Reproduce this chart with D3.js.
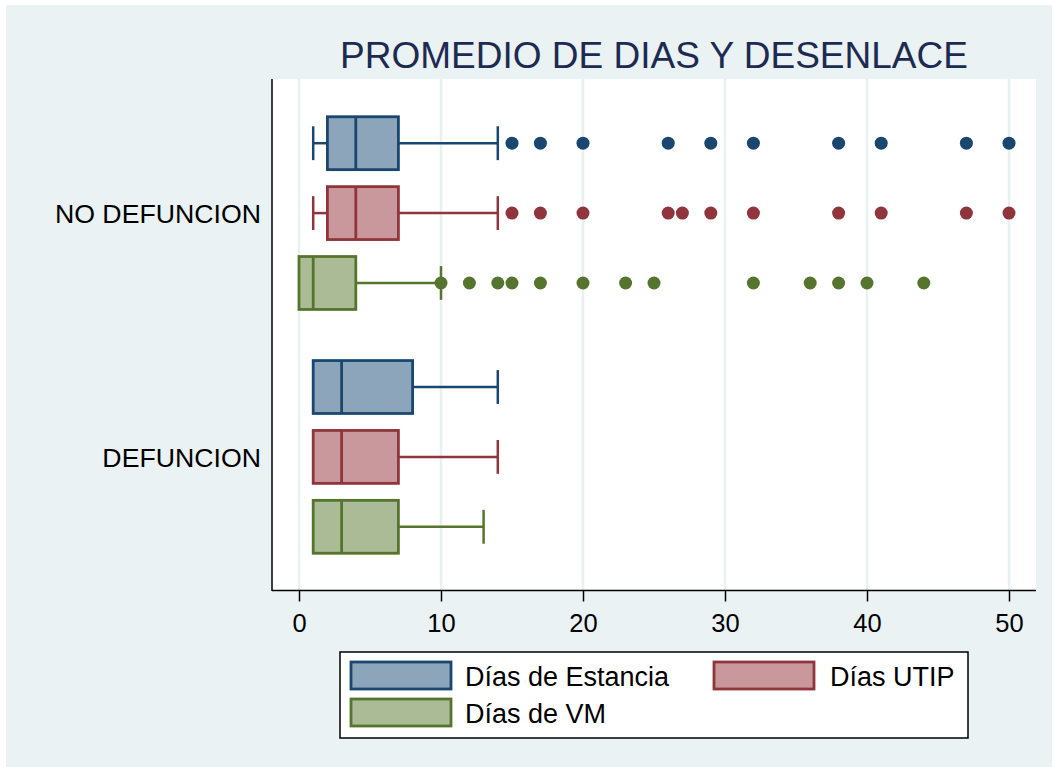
<!DOCTYPE html>
<html>
<head>
<meta charset="utf-8">
<script src="https://cdn.jsdelivr.net/npm/d3@7"></script>
<style>
  html, body { margin: 0; padding: 0; background: #ffffff; }
  svg { display: block; font-family: Arial, "Liberation Sans", sans-serif; }
</style>
</head>
<body>
<svg id="chart" width="1053" height="770"></svg>
<script>
// Outcome groups and the three day counts compared within each
const categories = ["NO DEFUNCION", "DEFUNCION"];
const series = ["Días de Estancia", "Días UTIP", "Días de VM"];
const xTicks = [0, 10, 20, 30, 40, 50];
const title = "PROMEDIO DE DIAS Y DESENLACE";

// Box statistics: [lower adjacent, Q1, median, Q3, upper adjacent]
const estanciaStats = [[1, 2, 4, 7, 14], [1, 1, 3, 8, 14]];
const utipStats     = [[1, 2, 4, 7, 14], [1, 1, 3, 7, 14]];
const vmStats       = [[0, 0, 1, 4, 10], [1, 1, 3, 7, 13]];

// Outside values
const estanciaOutliers = [[15, 17, 20, 26, 29, 32, 38, 41, 47, 50], []];
const utipOutliers     = [[15, 17, 20, 26, 27, 29, 32, 38, 41, 47, 50], []];
const vmOutliers       = [[10, 12, 14, 15, 17, 20, 23, 25, 32, 36, 38, 40, 44], []];

const strokeColors = ["#1a476f", "#90353b", "#55752f"];
const fillColors   = ["#8ca5bb", "#c8989c", "#aabb95"];

const stats = [estanciaStats, utipStats, vmStats];
const outliers = [estanciaOutliers, utipOutliers, vmOutliers];

const svg = d3.select("#chart");

// Outer graph region
svg.append("rect")
  .attr("x", 6).attr("y", 5).attr("width", 1046).attr("height", 762)
  .attr("fill", "#eaf2f3");

const plot = { left: 272, right: 1036, top: 79, bottom: 591 };

svg.append("rect")
  .attr("x", plot.left).attr("y", plot.top)
  .attr("width", plot.right - plot.left).attr("height", plot.bottom - plot.top)
  .attr("fill", "#ffffff");

const x = d3.scaleLinear().domain([0, 50]).range([299, 1009]);

const yOuter = d3.scaleBand()
  .domain(categories)
  .range([plot.top, plot.bottom])
  .paddingInner(0.14)
  .paddingOuter(0.12);

const yInner = d3.scaleBand()
  .domain(series)
  .range([0, yOuter.bandwidth()])
  .paddingInner(0.243)
  .paddingOuter(0.1215);

// Vertical grid lines
svg.append("g").selectAll("line")
  .data(xTicks)
  .join("line")
  .attr("x1", d => x(d)).attr("x2", d => x(d))
  .attr("y1", plot.top).attr("y2", plot.bottom)
  .attr("stroke", "#e8f0f2")
  .attr("stroke-width", 2.5);

// Boxes
const rows = [];
categories.forEach((cat, ci) => {
  series.forEach((s, si) => {
    rows.push({ cat, s, si, st: stats[si][ci], out: outliers[si][ci] });
  });
});

const bh = yInner.bandwidth();
const capH = bh * 0.64;

const g = svg.append("g");
rows.forEach(r => {
  const yTop = yOuter(r.cat) + yInner(r.s);
  const yMid = yTop + bh / 2;
  const col = strokeColors[r.si];
  const [lo, q1, med, q3, hi] = r.st;
  const grp = g.append("g");

  // whiskers
  grp.append("line")
    .attr("x1", x(lo)).attr("x2", x(q1))
    .attr("y1", yMid).attr("y2", yMid)
    .attr("stroke", col).attr("stroke-width", 2.5);
  grp.append("line")
    .attr("x1", x(q3)).attr("x2", x(hi))
    .attr("y1", yMid).attr("y2", yMid)
    .attr("stroke", col).attr("stroke-width", 2.5);
  if (lo < q1) {
    grp.append("line")
      .attr("x1", x(lo)).attr("x2", x(lo))
      .attr("y1", yMid - capH / 2).attr("y2", yMid + capH / 2)
      .attr("stroke", col).attr("stroke-width", 2.5);
  }
  grp.append("line")
    .attr("x1", x(hi)).attr("x2", x(hi))
    .attr("y1", yMid - capH / 2).attr("y2", yMid + capH / 2)
    .attr("stroke", col).attr("stroke-width", 2.5);

  // box
  grp.append("rect")
    .attr("x", x(q1)).attr("y", yTop)
    .attr("width", x(q3) - x(q1)).attr("height", bh)
    .attr("fill", fillColors[r.si])
    .attr("stroke", col).attr("stroke-width", 2.8);
  grp.append("line")
    .attr("x1", x(med)).attr("x2", x(med))
    .attr("y1", yTop).attr("y2", yTop + bh)
    .attr("stroke", col).attr("stroke-width", 2.8);

  // outside values
  grp.selectAll("circle")
    .data(r.out)
    .join("circle")
    .attr("cx", d => x(d)).attr("cy", yMid)
    .attr("r", 6.5)
    .attr("fill", col);
});

// Category labels
svg.append("g").selectAll("text")
  .data(categories)
  .join("text")
  .attr("x", 261)
  .attr("y", d => yOuter(d) + yOuter.bandwidth() / 2)
  .attr("dy", "0.36em")
  .attr("text-anchor", "end")
  .attr("font-size", 26.7)
  .attr("fill", "#000")
  .text(d => d);

// Axis lines
svg.append("line")
  .attr("x1", plot.left).attr("x2", plot.left)
  .attr("y1", plot.top).attr("y2", plot.bottom)
  .attr("stroke", "#000").attr("stroke-width", 1.5);

const axis = svg.append("g")
  .attr("transform", `translate(0,${plot.bottom - 0.5})`)
  .call(d3.axisBottom(x).tickValues(xTicks).tickSize(11).tickPadding(12).tickFormat(d3.format("d")));
axis.select(".domain").remove();
axis.selectAll(".tick line").attr("stroke", "#000").attr("stroke-width", 1.5);
axis.selectAll(".tick text").attr("font-size", 25.5).attr("fill", "#000")
  .attr("font-family", "Arial, 'Liberation Sans', sans-serif");

svg.append("line")
  .attr("x1", plot.left).attr("x2", plot.right)
  .attr("y1", plot.bottom - 0.5).attr("y2", plot.bottom - 0.5)
  .attr("stroke", "#000").attr("stroke-width", 1.5);

// Title
svg.append("text")
  .attr("x", (plot.left + plot.right) / 2)
  .attr("y", 68)
  .attr("text-anchor", "middle")
  .attr("font-size", 37)
  .attr("fill", "#1d2b52")
  .text(title);

// Legend
const legend = svg.append("g");
legend.append("rect")
  .attr("x", 340).attr("y", 652).attr("width", 628).attr("height", 86)
  .attr("fill", "#ffffff").attr("stroke", "#000").attr("stroke-width", 1.5);

const legendPos = [
  { sx: 351, sy: 662, tx: 465, ty: 686 },
  { sx: 714, sy: 662, tx: 830, ty: 686 },
  { sx: 351, sy: 699, tx: 465, ty: 723 }
];
series.forEach((s, i) => {
  const p = legendPos[i];
  legend.append("rect")
    .attr("x", p.sx).attr("y", p.sy).attr("width", 100).attr("height", 27)
    .attr("fill", fillColors[i]).attr("stroke", strokeColors[i]).attr("stroke-width", 2.8);
  legend.append("text")
    .attr("x", p.tx).attr("y", p.ty)
    .attr("font-size", 27).attr("fill", "#000")
    .text(s);
});
</script>
</body>
</html>
